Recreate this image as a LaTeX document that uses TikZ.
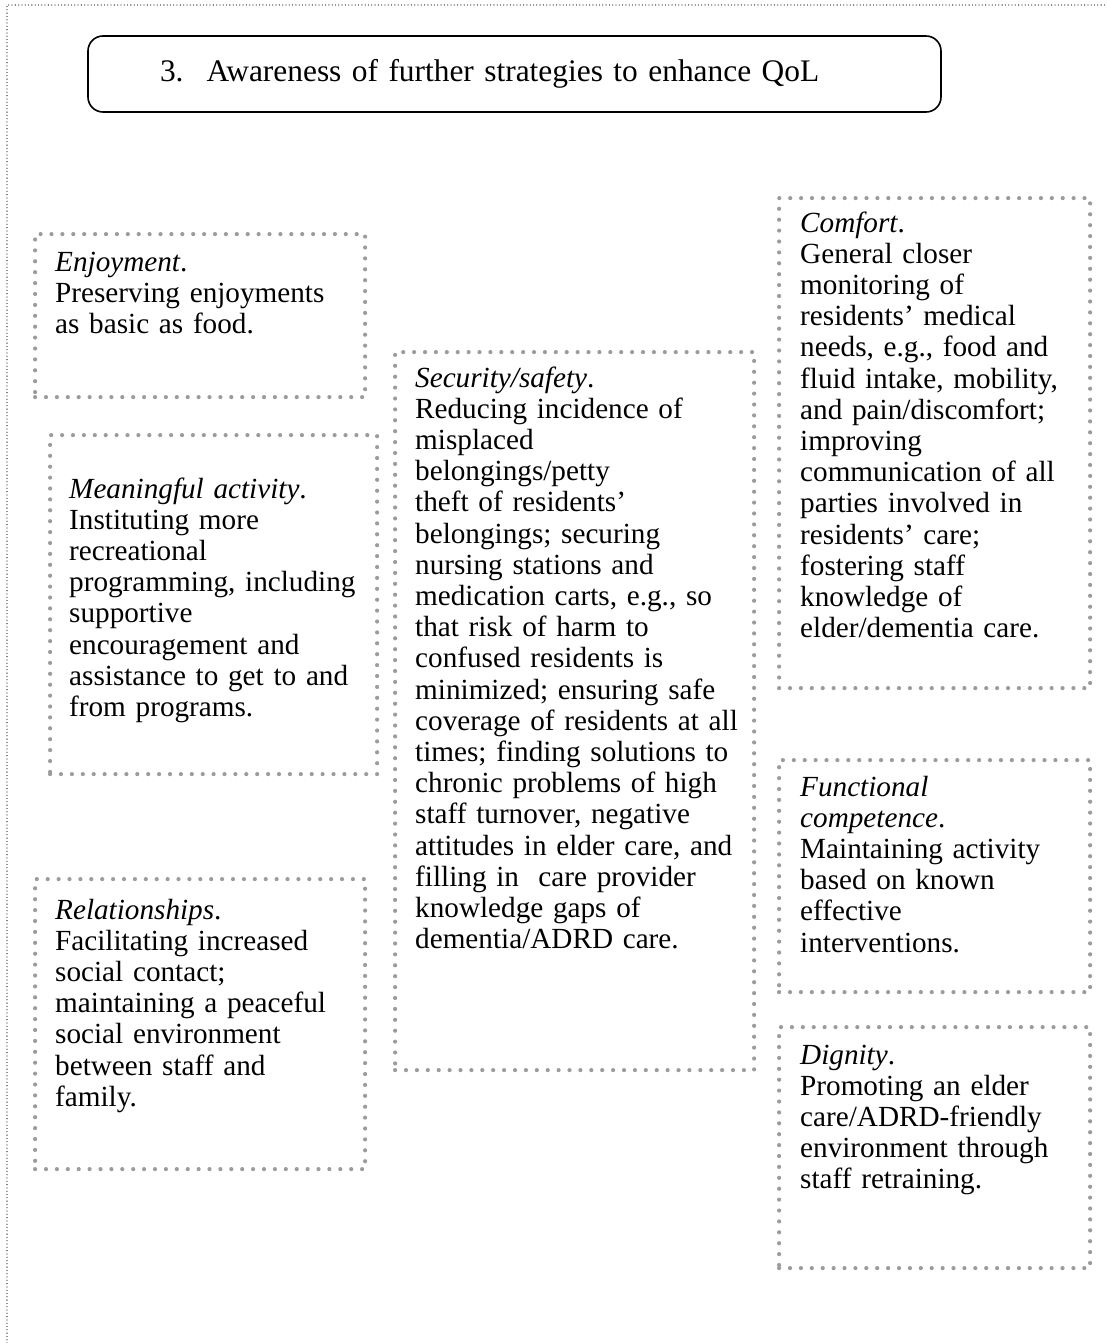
\documentclass[tikz,border=0pt]{standalone}
\usepackage{fontspec}
\setmainfont{Liberation Serif}
\usetikzlibrary{positioning}

\newcommand{\bodysize}{\fontsize{29.2}{31.2}\selectfont}
\newcommand{\headsize}{\fontsize{31.4}{34}\selectfont}

\begin{document}
\begin{tikzpicture}[
    x=1pt, y=1pt,
    every node/.style={align=left, inner sep=0pt},
    theme/.style={draw, line width=1.6pt, rounded corners=15pt, font=\headsize,
                  minimum width=853pt, minimum height=76pt, inner xsep=72pt,
                  text width=709pt},
    facet/.style={draw=gray!78, line width=4.2pt, line cap=round,
                  dash pattern=on 0pt off 10.9pt, anchor=north west},
    ftext/.style={font=\bodysize, anchor=base west},
    pageframe/.style={draw=black!85, line width=1.3pt, line cap=round,
                      dash pattern=on 0pt off 3.3pt}
]
\useasboundingbox (0,0) rectangle (1107,-1343);
\draw[pageframe] (7,-1343) -- (7,-5) -- (1107,-5);

\node[theme] (title) at (514.5,-74)
    {3.\hspace{23pt}Awareness of further strategies to enhance QoL};

% left column
\node[facet, minimum width=330pt, minimum height=163pt] (enjoy)    at (33,-232) {};
\node[facet, minimum width=327pt, minimum height=339pt] (activity) at (48,-433) {};
\node[facet, minimum width=330pt, minimum height=290pt] (relation) at (33,-877) {};

\node[ftext, text width=304pt] (enjoyTxt) at ([shift={(22,-39)}]enjoy.north west)
    {\textit{Enjoyment}.\\
     Preserving enjoyments\\
     as basic as food.};
\node[ftext, text width=301pt] (activityTxt) at ([shift={(21,-65)}]activity.north west)
    {\textit{Meaningful activity}.\\
     Instituting more\\
     recreational\\
     programming, including\\
     supportive\\
     encouragement and\\
     assistance to get to and\\
     from programs.};
\node[ftext, text width=304pt] (relationTxt) at ([shift={(22,-42)}]relation.north west)
    {\textit{Relationships}.\\
     Facilitating increased\\
     social contact;\\
     maintaining a peaceful\\
     social environment\\
     between staff and\\
     family.};

% middle column
\node[facet, minimum width=359pt, minimum height=718pt] (security) at (393,-350) {};
\node[ftext, text width=333pt] (securityTxt) at ([shift={(22,-37)}]security.north west)
    {\textit{Security/safety}.\\
     Reducing incidence of\\
     misplaced\\
     belongings/petty\\
     theft of residents'\\
     belongings; securing\\
     nursing stations and\\
     medication carts, e.g., so\\
     that risk of harm to\\
     confused residents is\\
     minimized; ensuring safe\\
     coverage of residents at all\\
     times; finding solutions to\\
     chronic problems of high\\
     staff turnover, negative\\
     attitudes in elder care, and\\
     filling in~ care provider\\
     knowledge gaps of\\
     dementia/ADRD care.};

% right column
\node[facet, minimum width=311pt, minimum height=490pt] (comfort)  at (777,-196) {};
\node[facet, minimum width=311pt, minimum height=232pt] (function) at (777,-758) {};
\node[facet, minimum width=311pt, minimum height=241pt] (dignity)  at (777,-1025) {};

\node[ftext, text width=285pt] (comfortTxt) at ([shift={(23,-36)}]comfort.north west)
    {\textit{Comfort}.\\
     General closer\\
     monitoring of\\
     residents' medical\\
     needs, e.g., food and\\
     fluid intake, mobility,\\
     and pain/discomfort;\\
     improving\\
     communication of all\\
     parties involved in\\
     residents' care;\\
     fostering staff\\
     knowledge of\\
     elder/dementia care.};
\node[ftext, text width=285pt] (functionTxt) at ([shift={(23,-38)}]function.north west)
    {\textit{Functional}\\
     \textit{competence}.\\
     Maintaining activity\\
     based on known\\
     effective\\
     interventions.};
\node[ftext, text width=285pt] (dignityTxt) at ([shift={(23,-39)}]dignity.north west)
    {\textit{Dignity}.\\
     Promoting an elder\\
     care/ADRD-friendly\\
     environment through\\
     staff retraining.};
\end{tikzpicture}
\end{document}
